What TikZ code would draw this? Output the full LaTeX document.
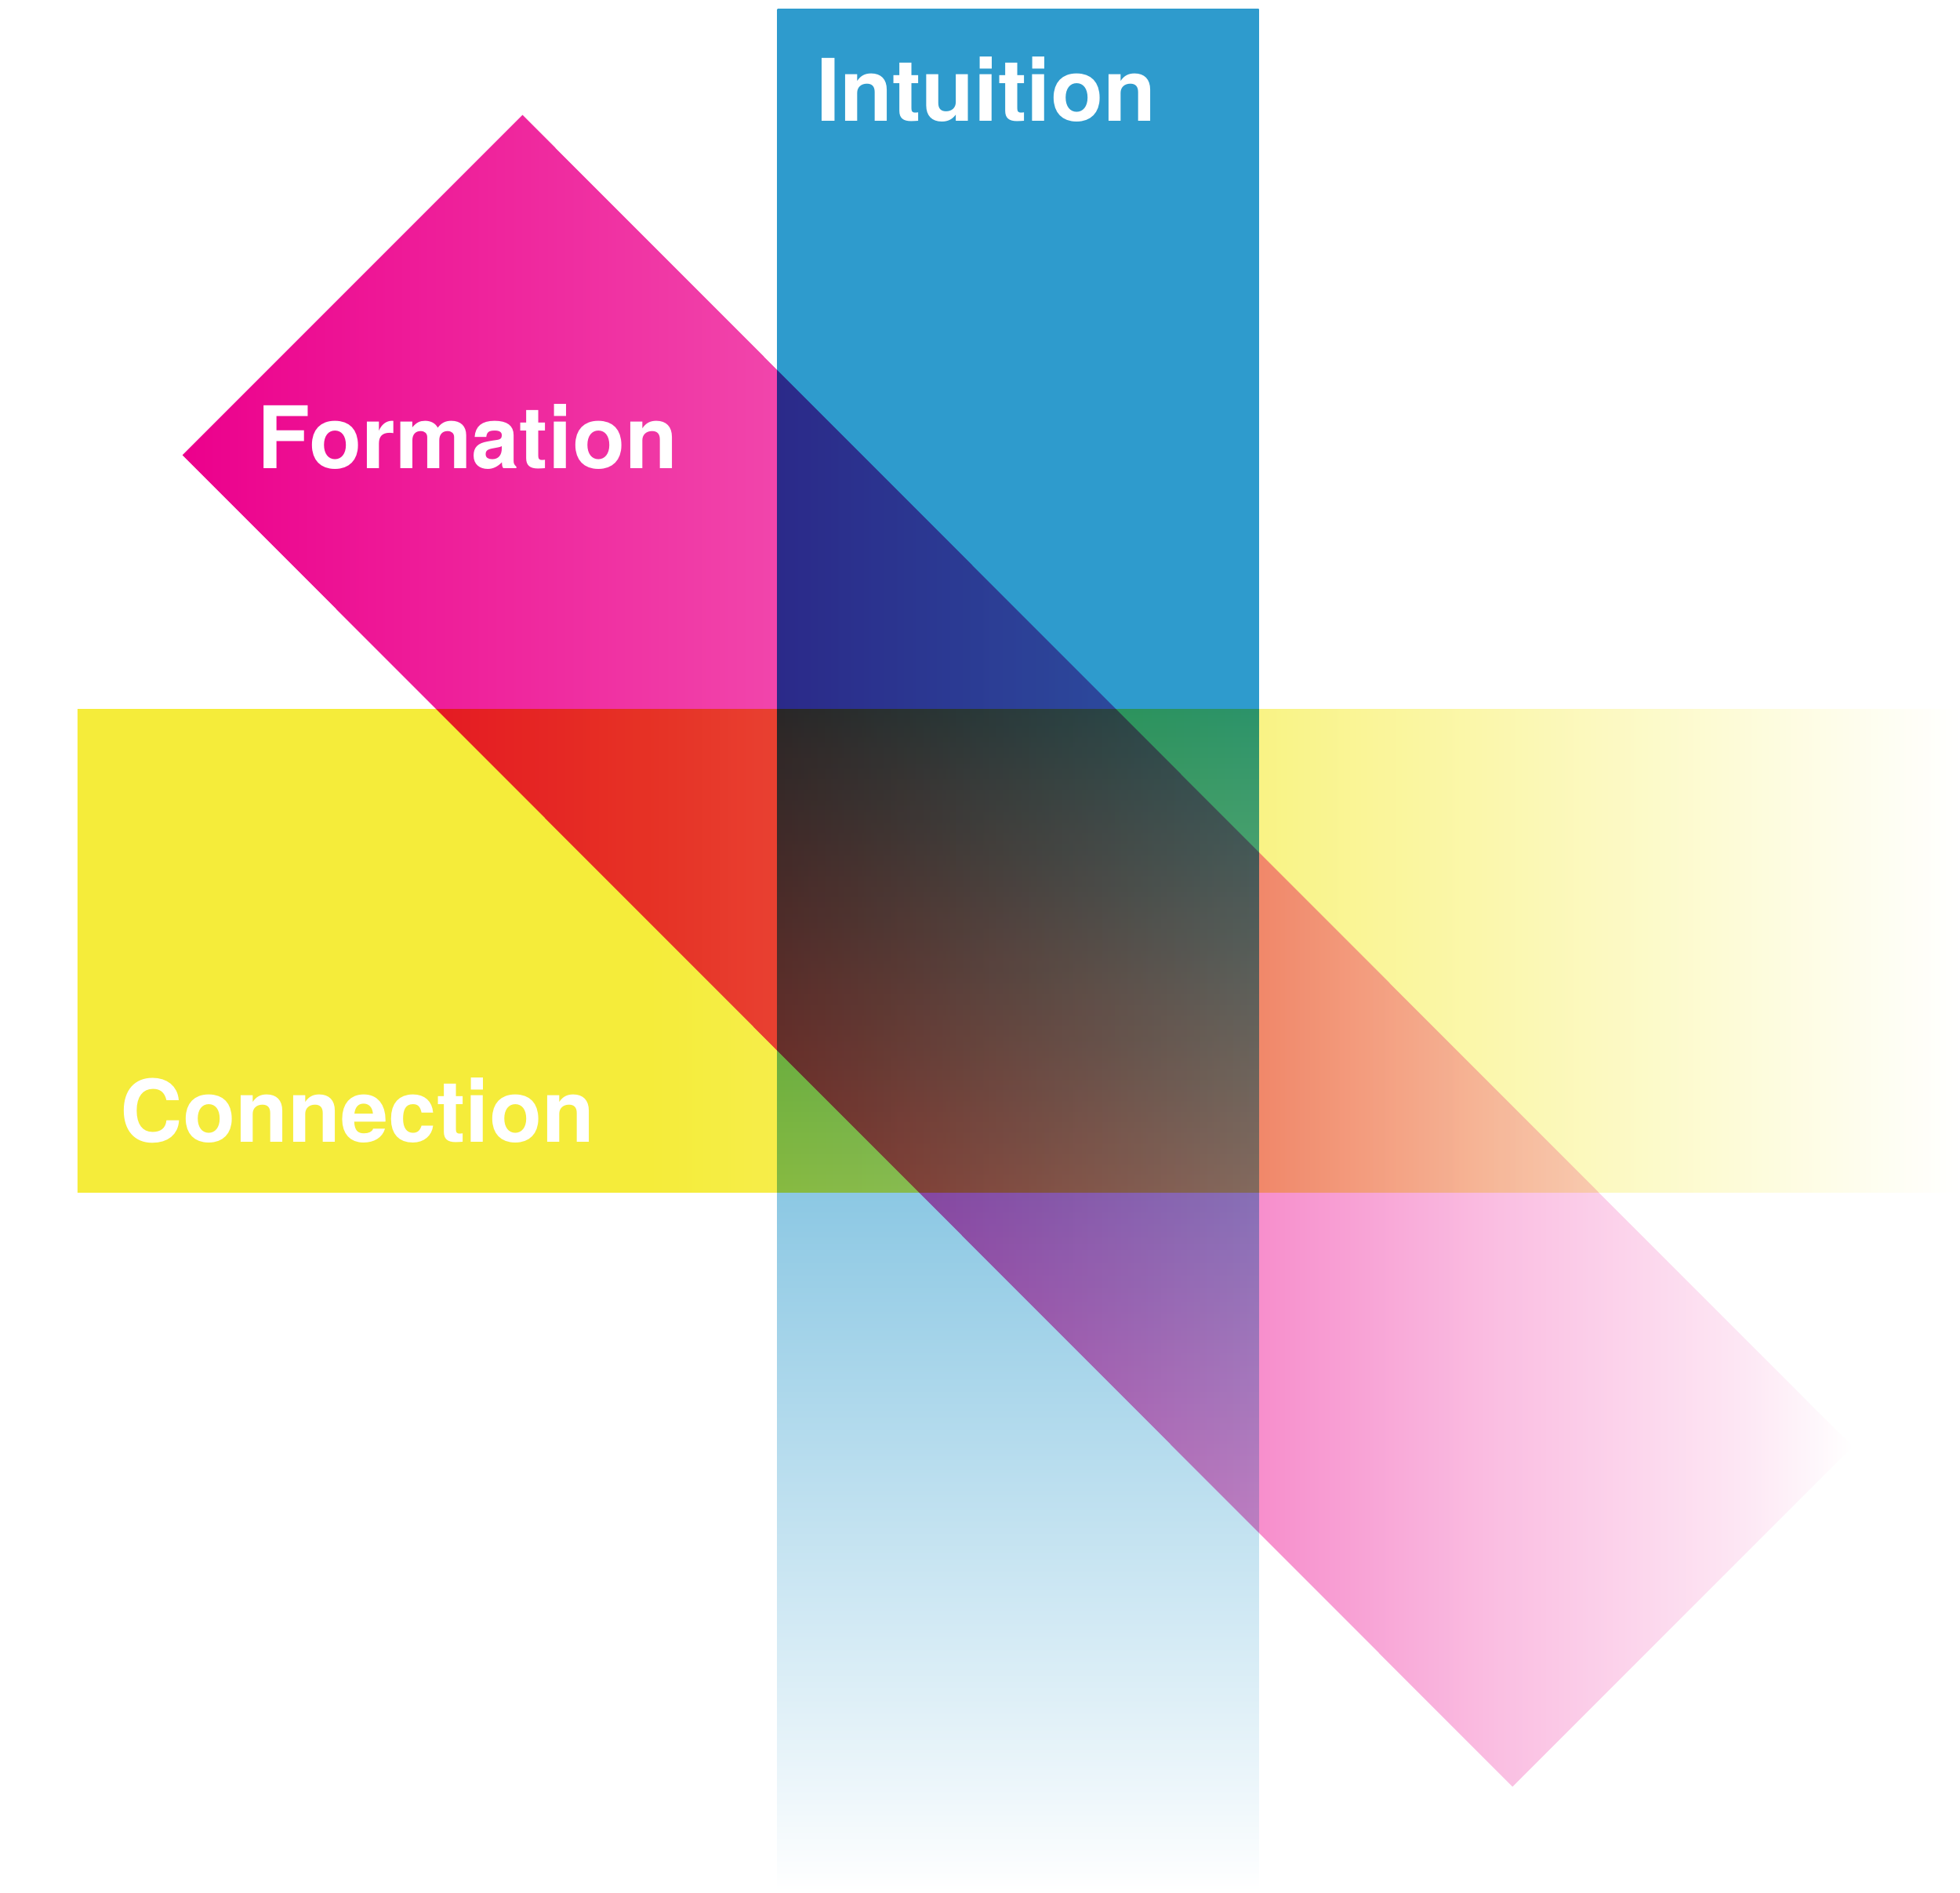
\documentclass[tikz,border=0pt]{standalone}
\usepackage{fontspec}
\newfontfamily\labelfont{TeX Gyre Heros}
\definecolor{cblue}{RGB}{46,155,205}
\definecolor{cyell}{RGB}{245,236,58}
\definecolor{cmag}{RGB}{236,0,140}
\colorlet{mA}{cmag!73!white}
\colorlet{mB}{cmag!44!white}
\colorlet{mC}{cmag!25!white}
\colorlet{mD}{cmag!9!white}
\colorlet{bA}{cblue!55!white}
\colorlet{bB}{cblue!8!white}
\colorlet{yA}{cyell!62!white}
\pgfdeclarehorizontalshading{magshade}{100bp}{color(0bp)=(cmag); color(25bp)=(cmag); color(42.7bp)=(mA); color(57.3bp)=(mB); color(64.5bp)=(mC); color(71.9bp)=(mD); color(75bp)=(white); color(100bp)=(white)}
\pgfdeclareverticalshading{blueshade}{100bp}{color(0bp)=(white); color(25bp)=(white); color(27.5bp)=(bB); color(43.6bp)=(bA); color(56.4bp)=(cblue); color(100bp)=(cblue)}
\pgfdeclarehorizontalshading{yellshade}{100bp}{color(0bp)=(cyell); color(25bp)=(cyell); color(40.2bp)=(cyell); color(56.4bp)=(yA); color(75bp)=(white); color(100bp)=(white)}
\tikzset{
  band/.style={blend mode=multiply},
  word/.style={text=white, inner sep=0pt, anchor=base west, font=\labelfont\bfseries\fontsize{31.3pt}{34pt}\selectfont}
}
\begin{document}
\begin{tikzpicture}[x=0.0159439cm, y=-0.0159439cm]
\useasboundingbox (0,0) rectangle (1568,1513.5);
\fill[white] (0,0) rectangle (1568,1513.5);
% yellow band
\shade[band, shading=yellshade] (62,567) rectangle (1568,953.5);
% blue band
\shade[band, shading=blueshade] (622,7.5) rectangle (1007,1513);
% magenta band
\shade[band, shading=magshade] (418,92) -- (1482,1157) -- (1210,1429) -- (146,364) -- cycle;
% labels
\node[word] (intuition) at (652.5,97) {Intuition};
\node[word] (formation) at (205.5,375) {Formation};
\node[word] (connection) at (96,913.8) {Connection};
\end{tikzpicture}
\end{document}
